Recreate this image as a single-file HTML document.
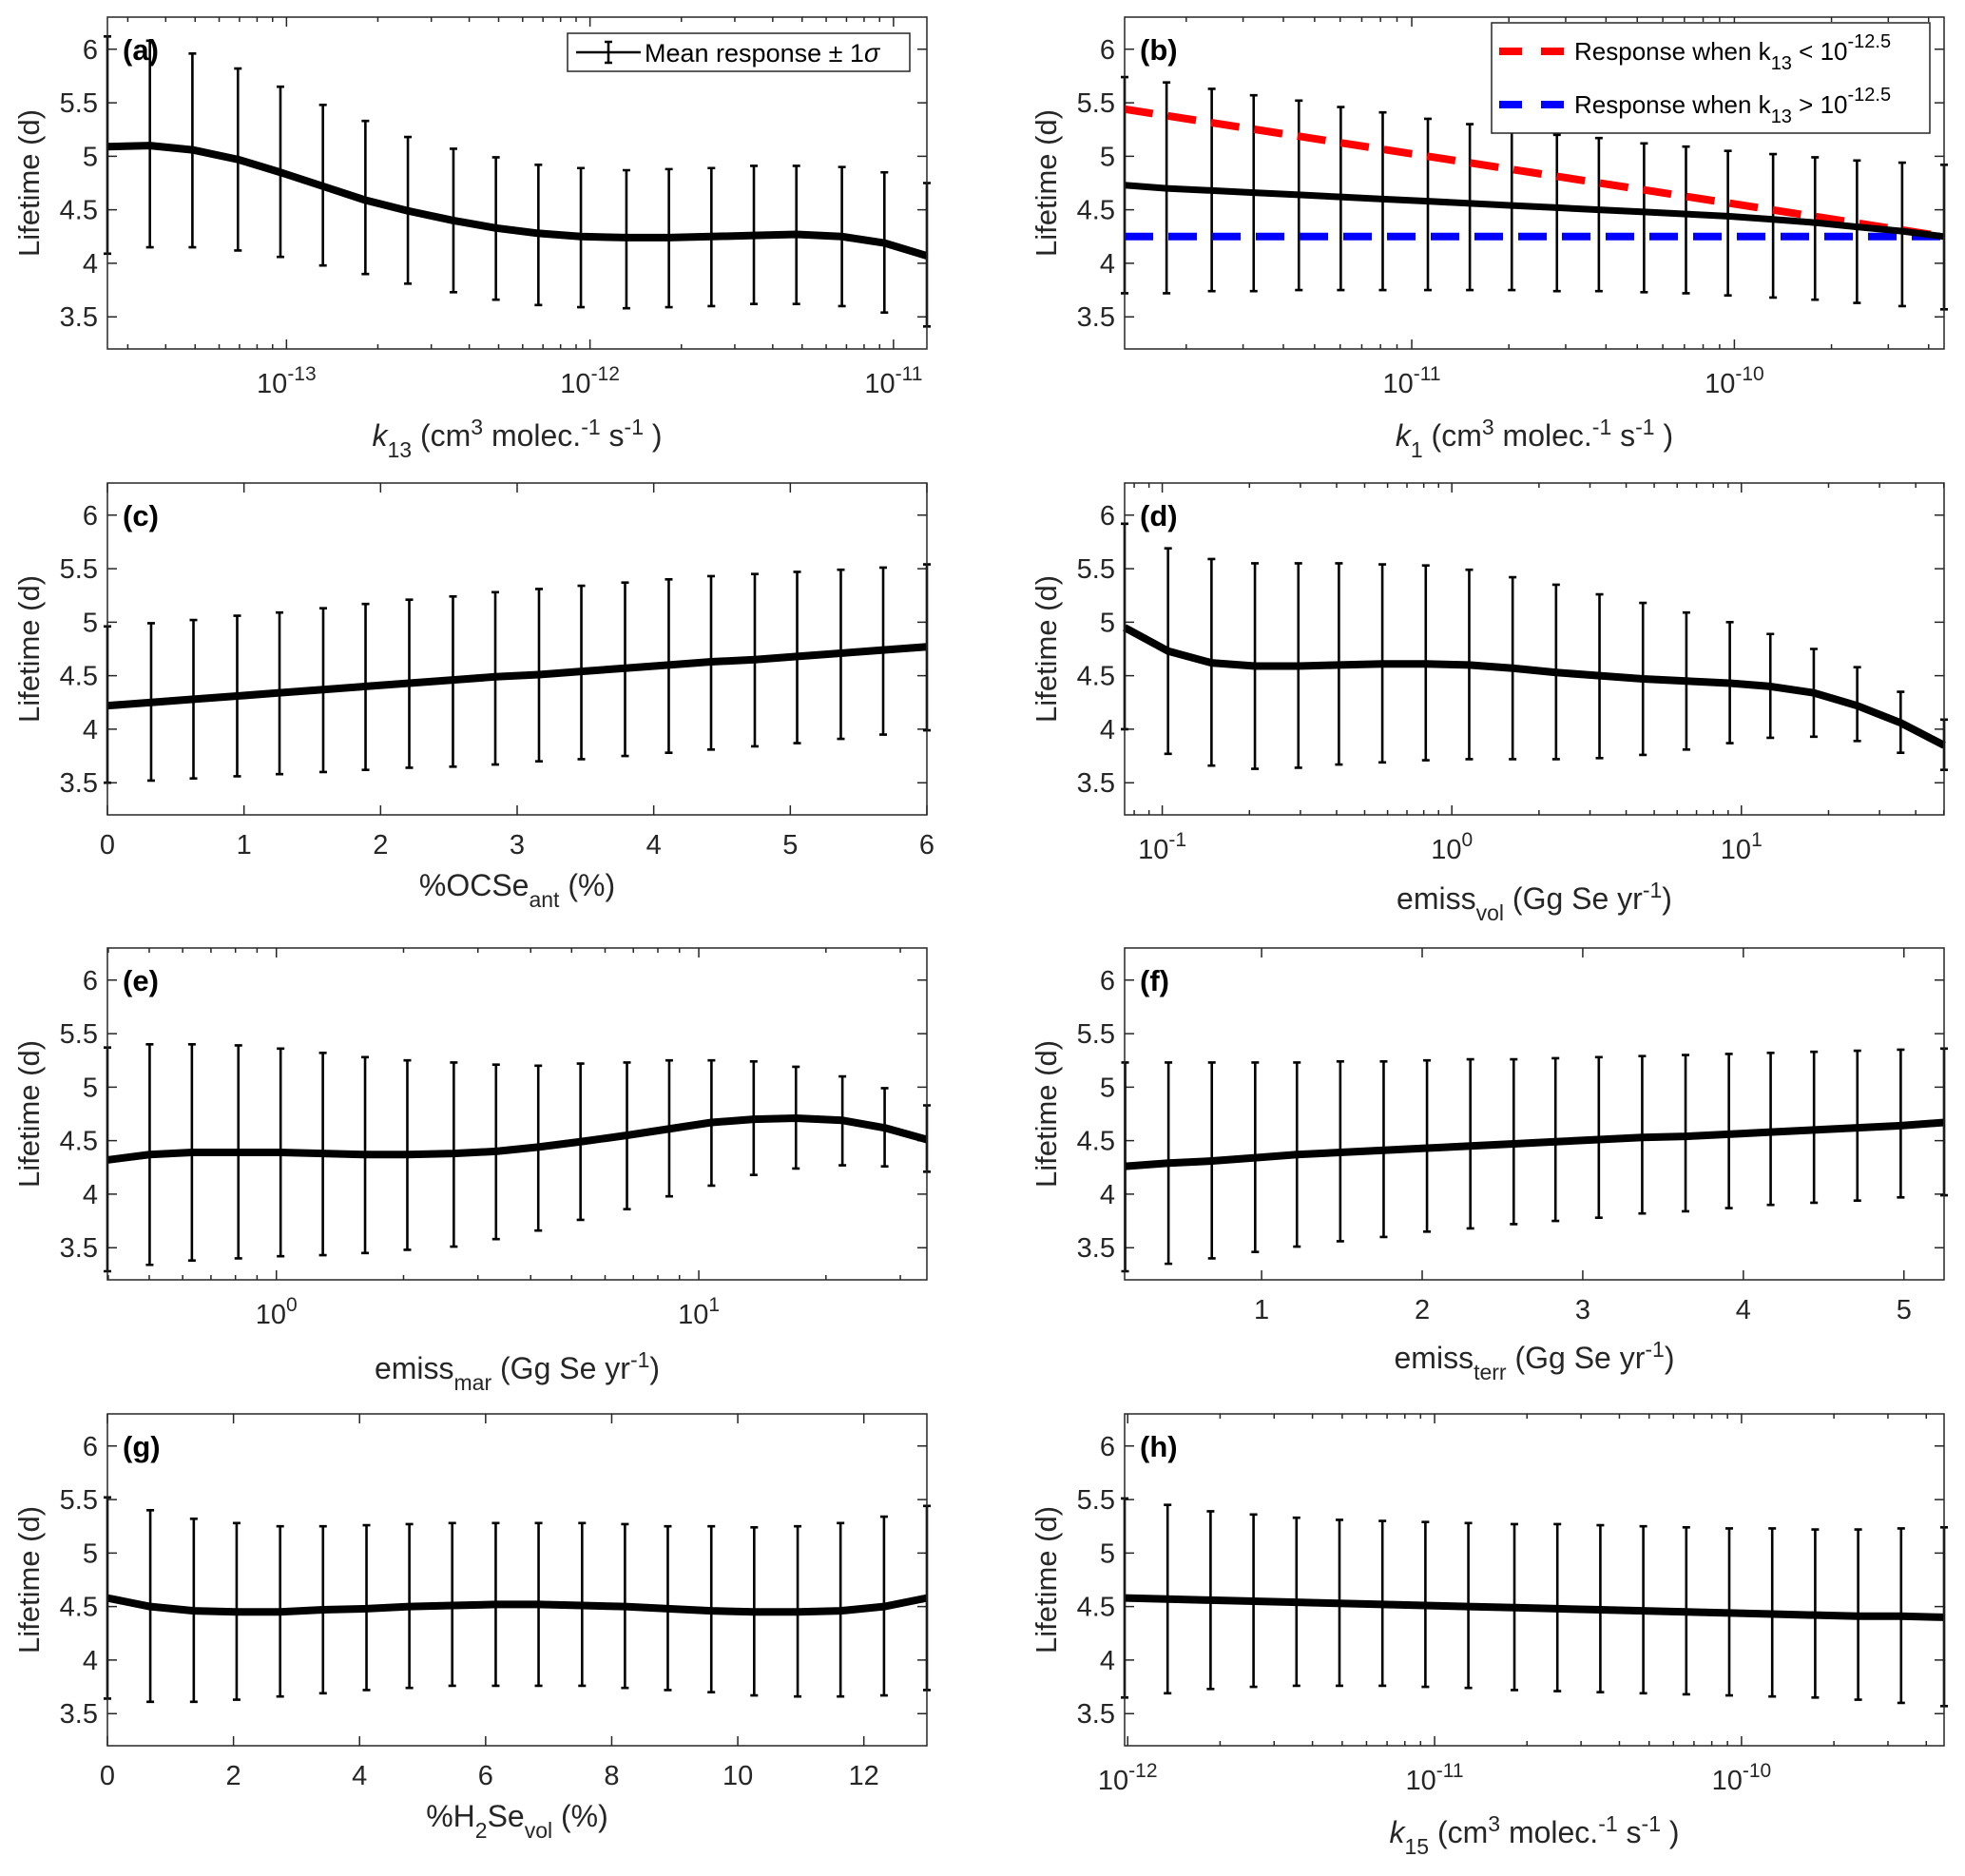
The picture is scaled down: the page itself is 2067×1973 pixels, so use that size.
<!DOCTYPE html>
<html><head><meta charset="utf-8"><title>Lifetime sensitivity</title>
<style>
html,body{margin:0;padding:0;background:#fff;}
svg{display:block;font-family:"Liberation Sans",Arial,sans-serif;}
</style></head>
<body>
<svg id="fig" width="2067" height="1973" viewBox="0 0 2067 1973" xmlns="http://www.w3.org/2000/svg"></svg>
<script>
// ---------- data ----------
const aLogK13 = [-13.59,-13.45,-13.31,-13.16,-13.02,-12.88,-12.74,-12.60,-12.45,-12.31,-12.17,-12.03,-11.88,-11.74,-11.60,-11.46,-11.32,-11.17,-11.03,-10.89];
const aMean = [5.09,5.10,5.06,4.97,4.85,4.72,4.59,4.49,4.40,4.33,4.28,4.25,4.24,4.24,4.25,4.26,4.27,4.25,4.19,4.07];
const aUpper = [6.12,6.08,5.96,5.82,5.65,5.48,5.33,5.18,5.07,4.99,4.92,4.89,4.87,4.88,4.89,4.91,4.91,4.90,4.85,4.75];
const aLower = [4.09,4.15,4.15,4.12,4.06,3.98,3.90,3.81,3.73,3.66,3.61,3.59,3.58,3.59,3.60,3.62,3.62,3.60,3.54,3.41];

const bLogK1 = [-11.89,-11.76,-11.62,-11.49,-11.35,-11.22,-11.09,-10.95,-10.82,-10.69,-10.55,-10.42,-10.28,-10.15,-10.02,-9.88,-9.75,-9.62,-9.48,-9.35];
const bMean = [4.73,4.70,4.68,4.66,4.64,4.62,4.60,4.58,4.56,4.54,4.52,4.50,4.48,4.46,4.44,4.41,4.38,4.34,4.30,4.25];
const bUpper = [5.74,5.69,5.63,5.57,5.52,5.46,5.41,5.35,5.30,5.25,5.20,5.17,5.12,5.09,5.05,5.02,4.99,4.96,4.94,4.92];
const bLower = [3.72,3.72,3.74,3.74,3.75,3.75,3.75,3.75,3.75,3.75,3.74,3.74,3.73,3.72,3.70,3.68,3.66,3.63,3.60,3.57];
const bRedX = [-11.89,-9.35];
const bRedY = [5.44,4.25];
const bBlueX = [-11.89,-9.35];
const bBlueY = [4.25,4.25];

const cOCSe = [0,0.32,0.63,0.95,1.26,1.58,1.89,2.21,2.53,2.84,3.16,3.47,3.79,4.11,4.42,4.74,5.05,5.37,5.68,6];
const cMean = [4.22,4.25,4.28,4.31,4.34,4.37,4.40,4.43,4.46,4.49,4.51,4.54,4.57,4.60,4.63,4.65,4.68,4.71,4.74,4.77];
const cUpper = [4.96,4.99,5.02,5.06,5.09,5.13,5.17,5.21,5.24,5.28,5.31,5.34,5.37,5.40,5.43,5.45,5.47,5.49,5.51,5.54];
const cLower = [3.50,3.52,3.54,3.56,3.58,3.60,3.62,3.64,3.65,3.67,3.70,3.72,3.75,3.78,3.81,3.84,3.87,3.91,3.95,3.99];

const dLogVol = [-1.13,-0.98,-0.83,-0.68,-0.53,-0.39,-0.24,-0.09,0.06,0.21,0.36,0.51,0.66,0.81,0.96,1.10,1.25,1.40,1.55,1.70];
const dMean = [4.95,4.73,4.62,4.59,4.59,4.60,4.61,4.61,4.60,4.57,4.53,4.50,4.47,4.45,4.43,4.40,4.34,4.22,4.06,3.85];
const dUpper = [5.92,5.69,5.59,5.55,5.55,5.55,5.54,5.53,5.49,5.42,5.35,5.26,5.18,5.09,5.00,4.89,4.75,4.58,4.35,4.09];
const dLower = [4.00,3.77,3.66,3.63,3.64,3.67,3.69,3.71,3.72,3.72,3.72,3.73,3.76,3.81,3.87,3.92,3.93,3.89,3.78,3.62];

const eLogMar = [-0.40,-0.30,-0.20,-0.09,0.01,0.11,0.21,0.31,0.42,0.52,0.62,0.72,0.83,0.93,1.03,1.13,1.23,1.34,1.44,1.54];
const eMean = [4.32,4.37,4.39,4.39,4.39,4.38,4.37,4.37,4.38,4.40,4.44,4.49,4.55,4.61,4.67,4.70,4.71,4.69,4.62,4.51];
const eUpper = [5.37,5.40,5.40,5.39,5.36,5.32,5.28,5.25,5.23,5.21,5.20,5.22,5.23,5.25,5.25,5.24,5.19,5.10,4.99,4.83];
const eLower = [3.28,3.34,3.38,3.40,3.42,3.43,3.45,3.48,3.51,3.58,3.66,3.76,3.86,3.98,4.08,4.18,4.24,4.27,4.26,4.21];

const fTerr = [0.15,0.42,0.69,0.96,1.22,1.49,1.76,2.03,2.30,2.57,2.83,3.10,3.37,3.64,3.91,4.17,4.44,4.71,4.98,5.25];
const fMean = [4.26,4.29,4.31,4.34,4.37,4.39,4.41,4.43,4.45,4.47,4.49,4.51,4.53,4.54,4.56,4.58,4.60,4.62,4.64,4.67];
const fUpper = [5.23,5.23,5.23,5.23,5.23,5.24,5.24,5.25,5.26,5.26,5.27,5.28,5.29,5.30,5.31,5.32,5.33,5.34,5.35,5.36];
const fLower = [3.28,3.35,3.40,3.46,3.51,3.56,3.60,3.65,3.68,3.72,3.75,3.78,3.82,3.84,3.87,3.90,3.92,3.94,3.97,3.99];

const gH2Se = [0,0.68,1.37,2.05,2.74,3.42,4.11,4.79,5.47,6.16,6.84,7.53,8.21,8.89,9.58,10.26,10.95,11.63,12.32,13];
const gMean = [4.58,4.50,4.46,4.45,4.45,4.47,4.48,4.50,4.51,4.52,4.52,4.51,4.50,4.48,4.46,4.45,4.45,4.46,4.50,4.58];
const gUpper = [5.52,5.40,5.32,5.28,5.25,5.25,5.26,5.27,5.28,5.28,5.28,5.28,5.27,5.25,5.25,5.24,5.25,5.28,5.34,5.44];
const gLower = [3.64,3.61,3.61,3.63,3.66,3.69,3.72,3.74,3.76,3.76,3.76,3.76,3.74,3.72,3.70,3.67,3.66,3.66,3.67,3.72];

const hLogK15 = [-12.01,-11.87,-11.73,-11.59,-11.45,-11.31,-11.17,-11.03,-10.89,-10.74,-10.60,-10.46,-10.32,-10.18,-10.04,-9.90,-9.76,-9.62,-9.48,-9.34];
const hMean = [4.58,4.57,4.56,4.55,4.54,4.53,4.52,4.51,4.50,4.49,4.48,4.47,4.46,4.45,4.44,4.43,4.42,4.41,4.41,4.40];
const hUpper = [5.51,5.45,5.39,5.36,5.33,5.31,5.30,5.29,5.28,5.27,5.27,5.26,5.25,5.24,5.23,5.23,5.22,5.22,5.23,5.24];
const hLower = [3.65,3.69,3.73,3.75,3.76,3.76,3.76,3.75,3.74,3.72,3.71,3.70,3.69,3.68,3.67,3.66,3.65,3.63,3.60,3.57];

const yTicks = [3.5,4,4.5,5,5.5,6];
const yTickLabels = ["3.5","4","4.5","5","5.5","6"];
const cTicks = [0,1,2,3,4,5,6];
const fTicks = [1,2,3,4,5];
const gTicks = [0,2,4,6,8,10,12];

// ---------- drawing ----------
const NS = "http://www.w3.org/2000/svg";
const svg = document.getElementById("fig");
const TC = "#262626";
function mk(tag, attrs, parent){
  const el = document.createElementNS(NS, tag);
  for (const k in attrs) el.setAttribute(k, attrs[k]);
  (parent||svg).appendChild(el);
  return el;
}
const kUnits = '(cm<tspan dy="-12" font-size="23">3</tspan><tspan dy="12"> molec.</tspan><tspan dy="-12" font-size="23">-1</tspan><tspan dy="12"> s</tspan><tspan dy="-12" font-size="23">-1</tspan><tspan dy="12"> )</tspan>';
const yrUnits = '(Gg Se yr<tspan dy="-12" font-size="23">-1</tspan><tspan dy="12">)</tspan>';

const panels = [
 {id:"a", x0:113, y0:18, log:true, xmin:-13.59, xmax:-10.89, xs:aLogK13, m:aMean, u:aUpper, l:aLower, lab:'<tspan font-style="italic">k</tspan><tspan dy="12" font-size="23">13</tspan><tspan dy="-12"> </tspan>'+kUnits, labDy:91},
 {id:"b", x0:1183, y0:18, log:true, xmin:-11.89, xmax:-9.35, xs:bLogK1, m:bMean, u:bUpper, l:bLower, lab:'<tspan font-style="italic">k</tspan><tspan dy="12" font-size="23">1</tspan><tspan dy="-12"> </tspan>'+kUnits, labDy:91},
 {id:"c", x0:113, y0:508, log:false, xmin:0, xmax:6, ticks:cTicks, xs:cOCSe, m:cMean, u:cUpper, l:cLower, lab:'%OCSe<tspan dy="12" font-size="23">ant</tspan><tspan dy="-12"> (%)</tspan>', labDy:74},
 {id:"d", x0:1183, y0:508, log:true, xmin:-1.13, xmax:1.70, xs:dLogVol, m:dMean, u:dUpper, l:dLower, lab:'emiss<tspan dy="12" font-size="23">vol</tspan><tspan dy="-12"> </tspan>'+yrUnits, labDy:88},
 {id:"e", x0:113, y0:997, log:true, xmin:-0.40, xmax:1.54, xs:eLogMar, m:eMean, u:eUpper, l:eLower, lab:'emiss<tspan dy="12" font-size="23">mar</tspan><tspan dy="-12"> </tspan>'+yrUnits, labDy:93},
 {id:"f", x0:1183, y0:997, log:false, xmin:0.147, xmax:5.25, ticks:fTicks, xs:fTerr, m:fMean, u:fUpper, l:fLower, lab:'emiss<tspan dy="12" font-size="23">terr</tspan><tspan dy="-12"> </tspan>'+yrUnits, labDy:82},
 {id:"g", x0:113, y0:1487, log:false, xmin:0, xmax:13, ticks:gTicks, xs:gH2Se, m:gMean, u:gUpper, l:gLower, lab:'%H<tspan dy="12" font-size="23">2</tspan><tspan dy="-12">Se</tspan><tspan dy="12" font-size="23">vol</tspan><tspan dy="-12"> (%)</tspan>', labDy:74},
 {id:"h", x0:1183, y0:1487, log:true, xmin:-12.01, xmax:-9.34, xs:hLogK15, m:hMean, u:hUpper, l:hLower, lab:'<tspan font-style="italic">k</tspan><tspan dy="12" font-size="23">15</tspan><tspan dy="-12"> </tspan>'+kUnits, labDy:91}
];
const W = 862, H = 349, YMIN = 3.2, YMAX = 6.3;

panels.forEach(p => {
  const g = mk("g", {});
  
  
  const X = v => p.x0 + (v - p.xmin) / (p.xmax - p.xmin) * W;
  const Y = v => p.y0 + H - (v - YMIN) / (YMAX - YMIN) * H;
  const bot = p.y0 + H;

  yTicks.forEach((t, i) => {
    const yy = Y(t);
    const tk = mk("path", {d:`M${p.x0} ${yy}h10M${p.x0+W} ${yy}h-10`, stroke:TC, "stroke-width":1.5, fill:"none"}, g);
    
    
    const tl = mk("text", {x:p.x0-10, y:yy+10, "text-anchor":"end", "font-size":29, fill:TC}, g);
    tl.textContent = yTickLabels[i];
    
    
  });

  if (p.log) {
    for (let d = Math.floor(p.xmin); d <= Math.ceil(p.xmax); d++) {
      for (let m = 1; m <= 9; m++) {
        const lv = d + Math.log10(m);
        if (lv < p.xmin - 1e-6 || lv > p.xmax + 1e-6) continue;
        const xx = X(lv), len = m === 1 ? 10 : 5;
        const tk = mk("path", {d:`M${xx} ${bot}v-${len}M${xx} ${p.y0}v${len}`, stroke:TC, "stroke-width":1.5}, g);
        
        
        if (m === 1) {
          const tl = mk("text", {x:xx, y:bot+46, "text-anchor":"middle", "font-size":29, fill:TC}, g);
          tl.innerHTML = '10<tspan dy="-13" font-size="21">' + (d < 0 ? '-' + (-d) : d) + '</tspan>';
          
          
        }
      }
    }
  } else {
    p.ticks.forEach(t => {
      const xx = X(t);
      const tk = mk("path", {d:`M${xx} ${bot}v-10M${xx} ${p.y0}v10`, stroke:TC, "stroke-width":1.5}, g);
      
      
      const tl = mk("text", {x:xx, y:bot+41, "text-anchor":"middle", "font-size":29, fill:TC}, g);
      tl.textContent = String(t);
      
      
    });
  }

  p.xs.forEach((xv, i) => {
    const xx = X(xv), yu = Y(p.u[i]), yl = Y(p.l[i]);
    const eb = mk("path", {d:`M${xx} ${yu}V${yl}M${xx-4} ${yu}h8M${xx-4} ${yl}h8`, stroke:"#000", "stroke-width":2.6, fill:"none"}, g);
    
    
  });

  if (p.id === "b") {
    const red = mk("polyline", {points:bRedX.map((v,i)=>X(v)+","+Y(bRedY[i])).join(" "), stroke:"#ff0000", "stroke-width":8, fill:"none", "stroke-dasharray":"30 16"}, g);
    
    
    const blue = mk("polyline", {points:bBlueX.map((v,i)=>X(v)+","+Y(bBlueY[i])).join(" "), stroke:"#0000ff", "stroke-width":8, fill:"none", "stroke-dasharray":"30 16"}, g);
    
    
  }

  const ml = mk("polyline", {points:p.xs.map((v,i)=>X(v)+","+Y(p.m[i])).join(" "), stroke:"#000", "stroke-width": p.id==="b"?7:8, fill:"none", "stroke-linejoin":"round"}, g);
  
  

  const bx = mk("rect", {x:p.x0, y:p.y0, width:W, height:H, fill:"none", stroke:TC, "stroke-width":1.5}, g);
  
  

  const pl = mk("text", {x:p.x0+16, y:Y(6)+11, "font-size":31, "font-weight":"bold", fill:"#000"}, g);
  pl.textContent = "(" + p.id + ")";
  
  

  const yl = mk("text", {x:0, y:0, transform:`translate(${p.x0-72} ${p.y0+H/2}) rotate(-90)`, "text-anchor":"middle", "font-size":31, fill:TC}, g);
  yl.textContent = "Lifetime (d)";
  
  

  const xl = mk("text", {x:p.x0+W/2, y:bot+p.labDy+11, "text-anchor":"middle", "font-size":32, fill:TC}, g);
  xl.innerHTML = p.lab;
  
  
});

// legend a
const la = mk("g", {});


mk("rect", {x:597, y:35, width:360, height:40, fill:"#fff", stroke:TC, "stroke-width":1.5}, la);
mk("path", {d:"M606 55h68M640 44v22M636 44h8M636 66h8", stroke:"#000", "stroke-width":2.5, fill:"none"}, la);
const lat = mk("text", {x:678, y:65, "font-size":27, fill:"#000"}, la);
lat.innerHTML = 'Mean response ± 1<tspan font-style="italic">σ</tspan>';



// legend b
const lb = mk("g", {});


mk("rect", {x:1569, y:24, width:461, height:116, fill:"#fff", stroke:TC, "stroke-width":1.5}, lb);
mk("path", {d:"M1577 54h68", stroke:"#ff0000", "stroke-width":8, "stroke-dasharray":"24 20"}, lb);
mk("path", {d:"M1577 110h68", stroke:"#0000ff", "stroke-width":8, "stroke-dasharray":"24 20"}, lb);
const lb1 = mk("text", {x:1656, y:63, "font-size":26, fill:"#000"}, lb);
lb1.innerHTML = 'Response when k<tspan dy="10" font-size="20">13</tspan><tspan dy="-10"> &lt; 10</tspan><tspan dy="-13" font-size="20">-12.5</tspan>';


const lb2 = mk("text", {x:1656, y:119, "font-size":26, fill:"#000"}, lb);
lb2.innerHTML = 'Response when k<tspan dy="10" font-size="20">13</tspan><tspan dy="-10"> &gt; 10</tspan><tspan dy="-13" font-size="20">-12.5</tspan>';


</script>
</body></html>
